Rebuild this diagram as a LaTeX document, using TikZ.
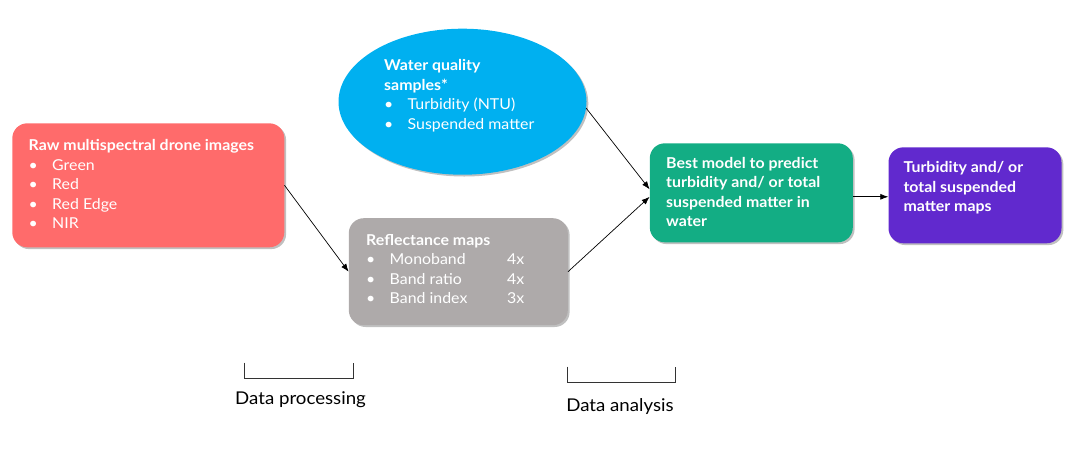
\documentclass[tikz,border=0pt]{standalone}
\usepackage{fontspec}
\setmainfont{Lato}[FakeStretch=1.06]
\usetikzlibrary{shapes.geometric,shadows,arrows.meta}
\definecolor{rawred}{HTML}{FF6B6B}
\definecolor{wqblue}{HTML}{00B0F0}
\definecolor{reflgray}{HTML}{AEAAAA}
\definecolor{bestgreen}{RGB}{19,173,132}
\definecolor{respurple}{RGB}{97,41,206}
\newcommand{\bul}[1]{\makebox[23.5pt][l]{\textbullet}#1}
\begin{document}
\begin{tikzpicture}[x=1pt, y=-1pt, font=\fontsize{15}{19.5}\selectfont, >={Latex[length=8pt,width=6pt]},
  box/.style={rounded corners=15pt, inner sep=0pt, drop shadow={shadow xshift=1.8pt, shadow yshift=-1.8pt, opacity=0.45, fill=black!55}},
  txt/.style={anchor=base west, inner sep=0pt, text=white},
  conn/.style={->, line width=0.7pt},
  bracket/.style={line width=0.8pt, black!80},
  lbl/.style={anchor=base, inner sep=0pt, font=\fontsize{17.6}{20}\selectfont}]
  \useasboundingbox (0,0) rectangle (1086,453);
  % boxes
  \node[box, fill=rawred, minimum width=272pt, minimum height=124pt] (raw) at (148.3,185.3) {};
  \node[box, ellipse, rounded corners=0pt, fill=wqblue, minimum width=248pt, minimum height=146pt] (wq) at (462.5,101.7) {};
  \node[box, fill=reflgray, minimum width=219pt, minimum height=107pt] (refl) at (458.3,271.7) {};
  \node[box, fill=bestgreen, minimum width=203pt, minimum height=99pt] (best) at (751.3,192.8) {};
  \node[box, fill=respurple, minimum width=173pt, minimum height=96pt] (res) at (975,195.3) {};
  % texts
  \node[txt] (rawtxt) at (28.5,150.7) {\begin{tabular}[t]{@{}l@{}}
    \textbf{Raw multispectral drone images}\\ \bul{Green}\\ \bul{Red}\\ \bul{Red Edge}\\ \bul{NIR}\end{tabular}};
  \node[txt] (wqtxt) at (384,70.5) {\begin{tabular}[t]{@{}l@{}}
    \textbf{Water quality}\\ \textbf{samples*}\\ \bul{Turbidity (NTU)}\\ \bul{Suspended matter}\end{tabular}};
  \node[txt] (refltxt) at (366,245) {\begin{tabular}[t]{@{}l@{}}
    \textbf{Reflectance maps}\\ \bul{\makebox[117.5pt][l]{Monoband}4x}\\
    \bul{\makebox[117.5pt][l]{Band ratio}4x}\\ \bul{\makebox[117.5pt][l]{Band index}3x}\end{tabular}};
  \node[txt, font=\fontsize{15}{19.5}\selectfont\bfseries] (besttxt) at (666,168.3) {\begin{tabular}[t]{@{}l@{}}
    Best model to predict\\ turbidity and/ or total\\ suspended matter in\\ water\end{tabular}};
  \node[txt, font=\fontsize{15}{19.5}\selectfont\bfseries] (restxt) at (903.3,172.7) {\begin{tabular}[t]{@{}l@{}}
    Turbidity and/ or\\ total suspended\\ matter maps\end{tabular}};
  % connectors
  \draw[conn] (raw.east) -- (refl.west);
  \draw[conn] (wq.-3) -- ([yshift=3.5pt]best.west);
  \draw[conn] (refl.east) -- ([yshift=-4pt]best.west);
  \draw[conn] ([yshift=-4pt]best.east) -- ([yshift=-4pt]best.east -| res.west);
  % brackets
  \draw[bracket] (244.5,362.5) -- (244.5,378.5) -- (353,378.5) -- (353,362.5);
  \draw[bracket] (567,366.5) -- (567,382.5) -- (675,382.5) -- (675,366.5);
  \node[lbl] (proc) at (300.5,404) {Data processing};
  \node[lbl] (anal) at (620,411) {Data analysis};
\end{tikzpicture}
\end{document}
